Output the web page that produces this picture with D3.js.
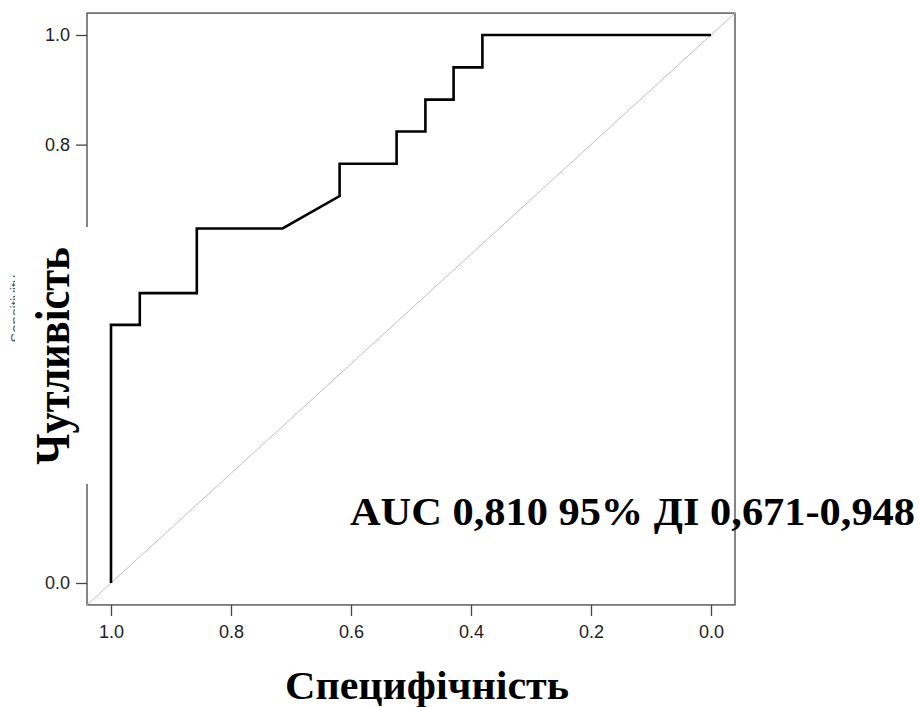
<!DOCTYPE html>
<html>
<head>
<meta charset="utf-8">
<script src="https://cdn.jsdelivr.net/npm/d3@7"></script>
<style>
  body { margin: 0; background: #fff; }
  svg { display: block; }
  .serif-title { font-family: 'Liberation Serif', 'Times New Roman', Times, serif; font-weight: bold; }
</style>
</head>
<body>
<div id="roc-chart"></div>
<script>
// ROC curve points
const specificity = [1.000, 1.000, 0.952, 0.952, 0.857, 0.857, 0.714, 0.619, 0.619,
                     0.524, 0.524, 0.476, 0.476, 0.429, 0.429, 0.381, 0.381, 0.000];
const sensitivity = [0.000, 0.471, 0.471, 0.529, 0.529, 0.647, 0.647, 0.706, 0.765,
                     0.765, 0.824, 0.824, 0.882, 0.882, 0.941, 0.941, 1.000, 1.000];
const tickValues = [1.0, 0.8, 0.6, 0.4, 0.2, 0.0];
const aucLabel = 'AUC 0,810 95% ДІ 0,671-0,948';
const xTitle = 'Специфічність';
const yTitle = 'Чутливість';

let width = 920,
    height = 707,
    squash = 0.913; // picture is a bit flattened vertically

let svg = d3.select('#roc-chart')
  .append('svg')
  .attr('width', width)
  .attr('height', height);

let x = d3.scaleLinear().domain([1, 0]).range([111, 711]);
let y = d3.scaleLinear().domain([0, 1]).range([583, 35]);

let points = specificity.map((s, i) => ({ spec: s, sens: sensitivity[i] }));

// plot box (R extends 4% past the data range)
svg.append('rect')
  .attr('x', x(1.04))
  .attr('y', y(1.04))
  .attr('width', x(-0.04) - x(1.04))
  .attr('height', y(-0.04) - y(1.04))
  .attr('fill', 'none')
  .attr('stroke', '#444')
  .attr('stroke-width', 1.3);

// chance diagonal
svg.append('line')
  .attr('x1', x(1.04)).attr('y1', y(-0.04))
  .attr('x2', x(-0.04)).attr('y2', y(1.04))
  .attr('stroke', '#bdbdbd')
  .attr('stroke-width', 1);

// axes
let xAxis = d3.axisBottom(x).tickValues(tickValues).tickSize(11).tickPadding(6)
  .tickFormat(d3.format('.1f'));
let yAxis = d3.axisLeft(y).tickValues(tickValues).tickSize(11).tickPadding(6)
  .tickFormat(d3.format('.1f'));

let gx = svg.append('g')
  .attr('transform', 'translate(0,' + y(-0.04) + ')')
  .call(xAxis);
let gy = svg.append('g')
  .attr('transform', 'translate(' + x(1.04) + ',0)')
  .call(yAxis);

[gx, gy].forEach(g => {
  g.select('.domain').remove();
  g.selectAll('.tick line').attr('stroke', '#444').attr('stroke-width', 1.3);
  g.selectAll('.tick text')
    .attr('fill', '#222')
    .style('font-family', "'Liberation Sans', Arial, sans-serif")
    .style('font-size', '18px');
});
gx.selectAll('.tick text').attr('dy', '0.9em');

// ROC curve
let line = d3.line()
  .x(d => x(d.spec))
  .y(d => y(d.sens));

svg.append('path')
  .datum(points)
  .attr('d', line)
  .attr('fill', 'none')
  .attr('stroke', '#000')
  .attr('stroke-width', 2.6)
  .attr('stroke-linejoin', 'miter');

// original small y label, mostly hidden under the pasted block
svg.append('text')
  .attr('transform', 'translate(21,' + y(0.5) + ') rotate(-90)')
  .attr('text-anchor', 'middle')
  .attr('fill', '#3b5590')
  .style('font-family', "'Liberation Sans', Arial, sans-serif")
  .style('font-size', '15px')
  .text('Sensitivity');

// white patch covering the middle of the y axis
svg.append('rect')
  .attr('x', 15)
  .attr('y', 227)
  .attr('width', 86)
  .attr('height', 257)
  .attr('fill', '#fff');

svg.append('text')
  .attr('class', 'serif-title')
  .attr('transform', 'translate(69,356) rotate(-90) scale(' + squash + ',1)')
  .attr('text-anchor', 'middle')
  .attr('textLength', 238)
  .attr('lengthAdjust', 'spacingAndGlyphs')
  .style('font-size', '48px')
  .text(yTitle);

svg.append('text')
  .attr('class', 'serif-title')
  .attr('transform', 'translate(427,699) scale(1,' + squash + ')')
  .attr('text-anchor', 'middle')
  .attr('textLength', 284)
  .attr('lengthAdjust', 'spacingAndGlyphs')
  .style('font-size', '44px')
  .text(xTitle);

svg.append('text')
  .attr('class', 'serif-title')
  .attr('transform', 'translate(350,525) scale(1,' + squash + ')')
  .attr('textLength', 565)
  .attr('lengthAdjust', 'spacingAndGlyphs')
  .style('font-size', '43px')
  .text(aucLabel);
</script>
</body>
</html>
